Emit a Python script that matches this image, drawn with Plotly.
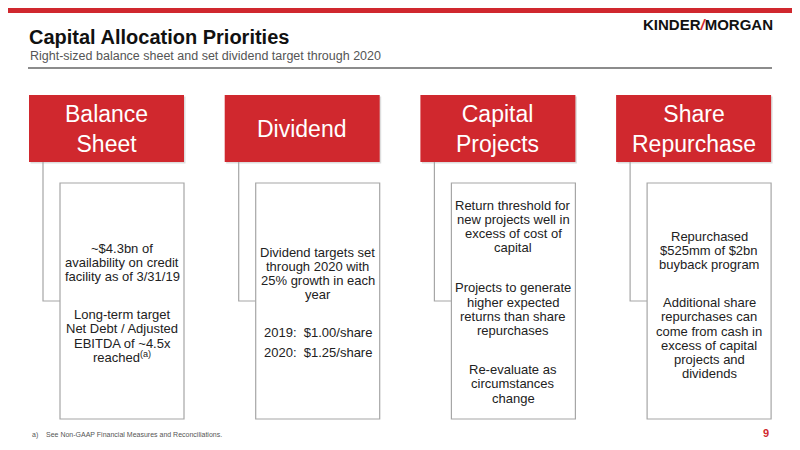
import plotly.graph_objects as go

RED, GREY, DARK = "#d0282e", "#a6a6a6", "#222222"

headers = ["Balance<br>Sheet", "Dividend", "Capital<br>Projects", "Share<br>Repurchase"]
# each body: list of paragraphs, each paragraph a list of lines
bodies = [
    [["~$4.3bn of", "availability on credit", "facility as of 3/31/19"],
     ["Long-term target", "Net Debt / Adjusted", "EBITDA of ~4.5x", "reached<sup>(a)</sup>"]],
    [["Dividend targets set", "through 2020 with", "25% growth in each", "year"],
     ["2019:  $1.00/share"], ["2020:  $1.25/share"]],
    [["Return threshold for", "new projects well in", "excess of cost of", "capital"],
     ["Projects to generate", "higher expected", "returns than share", "repurchases"],
     ["Re-evaluate as", "circumstances", "change"]],
    [["Repurchased", "$525mm of $2bn", "buyback program"],
     ["Additional share", "repurchases can", "come from cash in", "excess of capital",
      "projects and", "dividends"]],
]
body_top = [248, 252, 205, 236]
para_gap = [[24], [24, 5], [26, 25], [24]]
LINE_H = 14.2
OFF = 8  # page body margin of the html wrapper

FONT = "Liberation Sans, Arial, sans-serif"
fig = go.Figure()
shapes, ann = [], []

# slide chrome
shapes.append(dict(type="rect", x0=0, x1=820, y0=OFF - 2, y1=OFF + 5, fillcolor=RED, line_width=0))
shapes.append(dict(type="line", x0=28, x1=772, y0=68, y1=68, line=dict(color="#666", width=1.5)))
ann.append(dict(x=27, y=37, text="<b>Capital Allocation Priorities</b>", xanchor="left",
                font=dict(size=20, color="#111")))
ann.append(dict(x=28, y=56, text="Right-sized balance sheet and set dividend target through 2020",
                xanchor="left", font=dict(size=12.5, color="#555")))
ann.append(dict(x=708, y=24, text="<b>KINDER<span style='color:#d0282e'><i>/</i></span>MORGAN</b>",
                font=dict(size=15, color="#111", family="Liberation Sans Narrow, Arial Narrow, Arial")))
ann.append(dict(x=30, y=435, text="a)    See Non-GAAP Financial Measures and Reconciliations.",
                xanchor="left", font=dict(size=7, color="#555")))
ann.append(dict(x=771, y=433, text="<b>9</b>", xanchor="right", font=dict(size=11, color=RED)))

for i, (h, body) in enumerate(zip(headers, bodies)):
    x0 = 29 + i * 195.7
    shapes.append(dict(type="rect", x0=x0 + 1.5, x1=x0 + 156.5, y0=96.5, y1=163.5,
                       fillcolor="#dddddd", line_width=0))
    shapes.append(dict(type="rect", x0=x0, x1=x0 + 155, y0=95, y1=162, fillcolor=RED, line_width=0))
    ann.append(dict(x=x0 + 77.5, y=128.5, text=h, font=dict(size=23, color="white"),
                    align="center"))
    shapes.append(dict(type="path", path=f"M {x0+14} 162 L {x0+14} 301 L {x0+31} 301",
                       line=dict(color=GREY, width=1.2)))
    shapes.append(dict(type="rect", x0=x0 + 31, x1=x0 + 155, y0=183, y1=419,
                       fillcolor="white", line=dict(color=GREY, width=1.2)))
    y = body_top[i]
    for p, para in enumerate(body):
        if p:
            y += para_gap[i][p - 1]
        for line in para:
            ann.append(dict(x=x0 + 93, y=y, text=line, font=dict(size=13, color=DARK)))
            y += LINE_H

for a in ann:
    a.update(xref="x", yref="y", showarrow=False)
    a.setdefault("yanchor", "middle")

fig.update_layout(
    width=800, height=450, margin=dict(l=0, r=0, t=0, b=0),
    paper_bgcolor="white", plot_bgcolor="white",
    font=dict(family=FONT),
    xaxis=dict(range=[OFF, 800 + OFF], visible=False, fixedrange=True),
    yaxis=dict(range=[450 + OFF, OFF], visible=False, fixedrange=True),
    shapes=shapes, annotations=ann, showlegend=False,
)
fig.write_html("out.html", config={"displayModeBar": False})
